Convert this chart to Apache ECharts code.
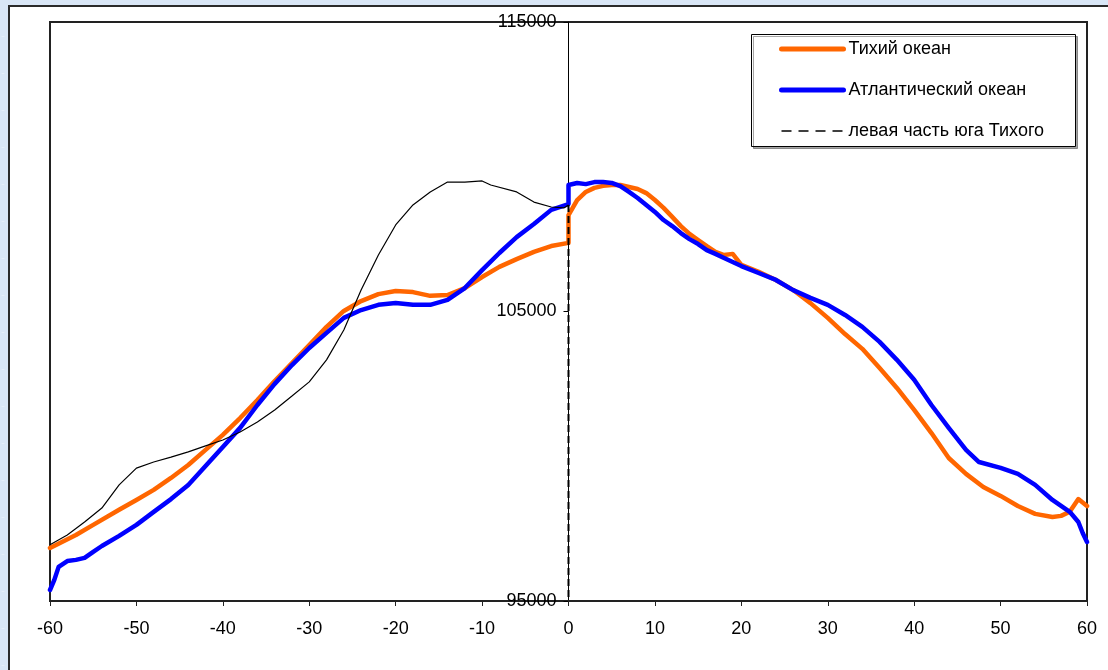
<!DOCTYPE html>
<html>
<head>
<meta charset="utf-8">
<script src="https://cdn.jsdelivr.net/npm/echarts@6/dist/echarts.min.js"></script>
<style>
  html, body { margin: 0; padding: 0; }
  body {
    width: 1108px; height: 670px; overflow: hidden; position: relative;
    background-color: #d9e6f6;
    background-image:
      radial-gradient(circle at 3px 40px, rgba(255,255,255,0.7) 0 3px, transparent 4px),
      radial-gradient(circle at 200px 2px, rgba(255,255,255,0.6) 0 2px, transparent 3px);
    background-size: 9px 37px, 61px 7px;
  }
  #panel {
    position: absolute; left: 8px; top: 5px; width: 1120px; height: 690px;
    background: #fff; border: 2px solid #2a2a2a; box-sizing: border-box;
  }
  #chart { position: absolute; left: 0; top: 0; width: 1108px; height: 670px; }
</style>
</head>
<body>
<div id="panel"></div>
<div id="chart"></div>
<script>
// Latitude profile: Pacific vs Atlantic, plus the southern-left Pacific segment
const xTicks = [-60, -50, -40, -30, -20, -10, 0, 10, 20, 30, 40, 50, 60];
const yTicks = [95000, 105000, 115000];

const pacificX = [-60, -57, -55, -52, -50, -48, -46, -44, -42, -40, -38, -36, -34, -32, -30, -28, -26, -24, -22, -20,
  -18, -16, -14, -12, -10, -8, -6, -4, -2, 0, 0, 1, 2, 3, 4, 5, 6, 7, 8, 9, 10, 11, 12, 13, 14, 15, 16, 17, 18, 19,
  20, 22, 24, 26, 28, 30, 32, 34, 36, 38, 40, 42, 44, 46, 48, 50, 52, 54, 56, 57, 58, 59, 60];
const pacificY = [96830, 97280, 97630, 98150, 98490, 98840, 99250, 99700, 100220, 100740, 101320, 101940, 102600,
  103220, 103840, 104470, 105020, 105360, 105600, 105710, 105670, 105540, 105570, 105810, 106190, 106540, 106810,
  107060, 107260, 107370, 108330, 108850, 109130, 109270, 109340, 109370, 109370, 109300, 109230, 109090, 108850,
  108580, 108270, 107950, 107680, 107470, 107260, 107060, 106950, 106990, 106610, 106370, 106090, 105740, 105290,
  104780, 104220, 103710, 103050, 102360, 101600, 100800, 99940, 99390, 98940, 98630, 98280, 98010, 97900, 97940,
  98080, 98520, 98280];

const atlanticX = [-60, -59.5, -59, -58, -57, -56, -55, -54, -52, -50, -48, -46, -44, -42, -40, -38, -36, -34, -32,
  -30, -28, -26, -24, -22, -20, -18, -16, -14, -12, -10, -8, -6, -4, -2, 0, 0, 1, 2, 3, 4, 5, 6, 7, 8, 9, 10, 11, 12,
  13, 14, 15, 16, 17, 18, 19, 20, 22, 24, 26, 28, 30, 32, 34, 36, 38, 40, 42, 44, 46, 47.5, 50, 52, 54, 56, 58, 59,
  59.5, 60];
const atlanticY = [95380, 95730, 96180, 96380, 96420, 96490, 96700, 96900, 97250, 97630, 98080, 98520, 99010, 99660,
  100320, 100980, 101770, 102500, 103150, 103740, 104260, 104780, 105050, 105230, 105290, 105230, 105230, 105400,
  105810, 106430, 107020, 107570, 108020, 108510, 108710, 109370, 109440, 109400, 109470, 109470, 109440, 109330,
  109130, 108920, 108680, 108440, 108160, 107950, 107710, 107500, 107330, 107120, 106990, 106850, 106710, 106570,
  106330, 106090, 105740, 105470, 105230, 104880, 104470, 103950, 103330, 102640, 101770, 100980, 100220, 99800,
  99600, 99390, 99010, 98490, 98080, 97730, 97350, 97040];

const southX = [-60, -58, -56, -54, -52, -50, -48, -46, -44, -42, -40, -38, -36, -34, -32, -30, -28, -26, -24, -22,
  -20, -18, -16, -14, -12, -10, -9, -6, -4, -2, -0.5, 0];
const southY = [96940, 97280, 97730, 98210, 99010, 99590, 99800, 99970, 100150, 100360, 100560, 100840, 101180,
  101600, 102080, 102570, 103330, 104360, 105740, 106950, 107990, 108680, 109130, 109470, 109470, 109510, 109370,
  109130, 108780, 108610, 108580, 108680];
// closing drop of the southern segment down to the axis floor
const southDropY = [108680, 95000];

const names = ['Тихий океан', 'Атлантический океан', 'левая часть юга Тихого'];

const zip = (xs, ys) => xs.map((x, i) => [x, ys[i]]);
const font = '"Liberation Sans", Arial, sans-serif';

const GRID = { left: 50, top: 22, right: 21, bottom: 69 };
const plotWidth = 1108 - GRID.left - GRID.right;
const xMin = xTicks[0], xMax = xTicks[xTicks.length - 1];
// shift the value axis from the left edge to x = 0
const yAxisShift = -plotWidth * (0 - xMin) / (xMax - xMin);

const chart = echarts.init(document.getElementById('chart'), null, { renderer: 'canvas' });
chart.setOption({
  backgroundColor: 'transparent',
  animation: false,
  textStyle: { fontFamily: font },
  grid: Object.assign({
    show: true, borderColor: '#222', borderWidth: 2, backgroundColor: '#fff',
    containLabel: false, outerBoundsMode: 'none'
  }, GRID),
  graphic: [{
    type: 'rect', left: 751, top: 34, z: 10,
    shape: { width: 324, height: 112 },
    style: { fill: '#fff', stroke: '#000', lineWidth: 1, shadowColor: 'rgba(0,0,0,0.35)', shadowOffsetX: 2, shadowOffsetY: 2 }
  }],
  legend: {
    orient: 'vertical', left: 779, top: 40, z: 20,
    itemWidth: 62, itemHeight: 14, itemGap: 23, padding: 0,
    itemStyle: { opacity: 0 },
    textStyle: { fontSize: 18, color: '#000', fontFamily: font },
    data: [
      { name: names[0], lineStyle: { width: 5, cap: 'round' } },
      { name: names[1], lineStyle: { width: 5, cap: 'round' } },
      { name: names[2], lineStyle: { type: [10, 7], width: 1.6 } }
    ]
  },
  xAxis: {
    type: 'value', min: xMin, max: xMax, interval: 10,
    axisLine: { show: true, onZero: false, lineStyle: { color: '#222', width: 2 } },
    axisTick: { show: true, length: 5, lineStyle: { color: '#222', width: 1 } },
    axisLabel: { fontSize: 18, color: '#000', margin: 19, fontFamily: font },
    splitLine: { show: false }
  },
  yAxis: {
    type: 'value', min: yTicks[0], max: yTicks[yTicks.length - 1], interval: 10000,
    position: 'left', offset: yAxisShift,
    axisLine: { show: true, onZero: false, lineStyle: { color: '#000', width: 1 } },
    axisTick: { show: true, length: 5, lineStyle: { color: '#000', width: 1 } },
    axisLabel: { fontSize: 18, color: '#000', margin: 12, fontFamily: font, formatter: v => String(v) },
    splitLine: { show: false }
  },
  series: [
    {
      name: names[0], type: 'line', symbol: 'none', data: zip(pacificX, pacificY),
      lineStyle: { color: '#FF6600', width: 4.5, cap: 'round', join: 'round' },
      itemStyle: { color: '#FF6600' }, z: 2
    },
    {
      name: names[1], type: 'line', symbol: 'none', data: zip(atlanticX, atlanticY),
      lineStyle: { color: '#0000FF', width: 4.5, cap: 'round', join: 'round' },
      itemStyle: { color: '#0000FF' }, z: 3
    },
    {
      name: names[2], type: 'line', symbol: 'none', data: zip(southX, southY),
      lineStyle: { color: '#000', width: 1.2 },
      itemStyle: { color: '#000' }, z: 4
    },
    {
      name: names[2] + ' ', type: 'line', symbol: 'none', silent: true,
      data: zip([0, 0], southDropY),
      lineStyle: { color: '#000', width: 2, type: [7, 4] }, z: 4
    }
  ]
});
</script>
</body>
</html>
